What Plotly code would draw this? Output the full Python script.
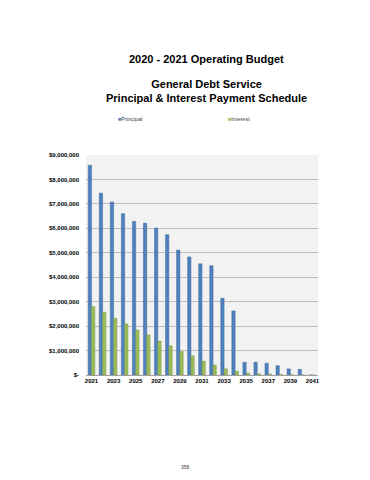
import plotly.graph_objects as go

years = list(range(2021, 2042))
principal = [8580000, 7440000, 7080000, 6600000, 6280000, 6210000, 6010000, 5740000,
             5110000, 4830000, 4550000, 4470000, 3140000, 2620000, 520000, 520000,
             480000, 380000, 250000, 230000, 0]
interest = [2800000, 2570000, 2320000, 2090000, 1840000, 1640000, 1390000, 1190000,
            960000, 780000, 570000, 410000, 250000, 150000, 80000, 50000,
            40000, 20000, 10000, 5000, 0]
y_tickvals = [0, 1000000, 2000000, 3000000, 4000000, 5000000, 6000000, 7000000, 8000000, 9000000]
y_ticktext = ["$-", "$1,000,000", "$2,000,000", "$3,000,000", "$4,000,000", "$5,000,000",
              "$6,000,000", "$7,000,000", "$8,000,000", "$9,000,000"]
x_tickvals = list(range(2021, 2042, 2))
series_names = ["Principal", "Interest"]
series_colors = ["#4F81BD", "#9BBB59"]

FONT = "Liberation Sans, Arial, sans-serif"

fig = go.Figure()
fig.add_trace(go.Bar(x=years, y=principal, name=series_names[0], showlegend=False,
                     marker=dict(color=series_colors[0], line=dict(color="#3A6BA5", width=0.5))))
fig.add_trace(go.Bar(x=years, y=interest, name=series_names[1], showlegend=False,
                     marker=dict(color=series_colors[1], line=dict(color="#7F9A45", width=0.5))))

# page body has an 8px margin, so the figure is sized/offset to compensate
fig.update_layout(
    width=362, height=472,
    margin=dict(l=78, r=52, t=147, b=105),
    paper_bgcolor="white", plot_bgcolor="#F2F2F2",
    barmode="group", bargap=0.4, bargroupgap=0,
    font=dict(family=FONT, color="#000000"),
    showlegend=False,
    xaxis=dict(range=[2020.5, 2041.5], tickmode="array", tickvals=x_tickvals,
               ticktext=[str(v) for v in x_tickvals],
               tickfont=dict(size=6, family=FONT, weight="bold"),
               showgrid=False, showline=True, linecolor="#A0A0A0", linewidth=1,
               ticks="", zeroline=False),
    yaxis=dict(range=[0, 9000000], tickmode="array", tickvals=y_tickvals, ticktext=y_ticktext,
               tickfont=dict(size=6, family=FONT, weight="bold"),
               showgrid=True, gridcolor="#BFBFBF", gridwidth=1,
               showline=False, zeroline=False, ticks="", ticklabelstandoff=6),
)

# legend entries
for name, color, xpos in zip(series_names, series_colors, [0.128, 0.603]):
    fig.add_annotation(text=f"<span style='color:{color}'>■</span>{name}",
                       xref="paper", yref="paper", x=xpos, y=1.0, yshift=36,
                       showarrow=False, xanchor="left", yanchor="middle",
                       font=dict(size=5.5, family=FONT, color="#404040"))

fig.add_annotation(text="<b>2020 - 2021 Operating Budget</b>", xref="paper", yref="paper",
                   x=0.5, y=1.0, showarrow=False, font=dict(size=11, family=FONT),
                   xanchor="center", yanchor="middle", yshift=96, xshift=4)
fig.add_annotation(text="<b>General Debt Service<br>Principal &amp; Interest Payment Schedule</b>",
                   xref="paper", yref="paper", x=0.5, y=1.0, showarrow=False,
                   font=dict(size=11, family=FONT), xanchor="center", yanchor="middle",
                   yshift=64, xshift=4)
fig.add_annotation(text="358", xref="paper", yref="paper", x=0.427, y=0, showarrow=False,
                   font=dict(size=5, family=FONT, color="#333333"),
                   xanchor="center", yanchor="middle", yshift=-92)

fig.write_html("out.html")
